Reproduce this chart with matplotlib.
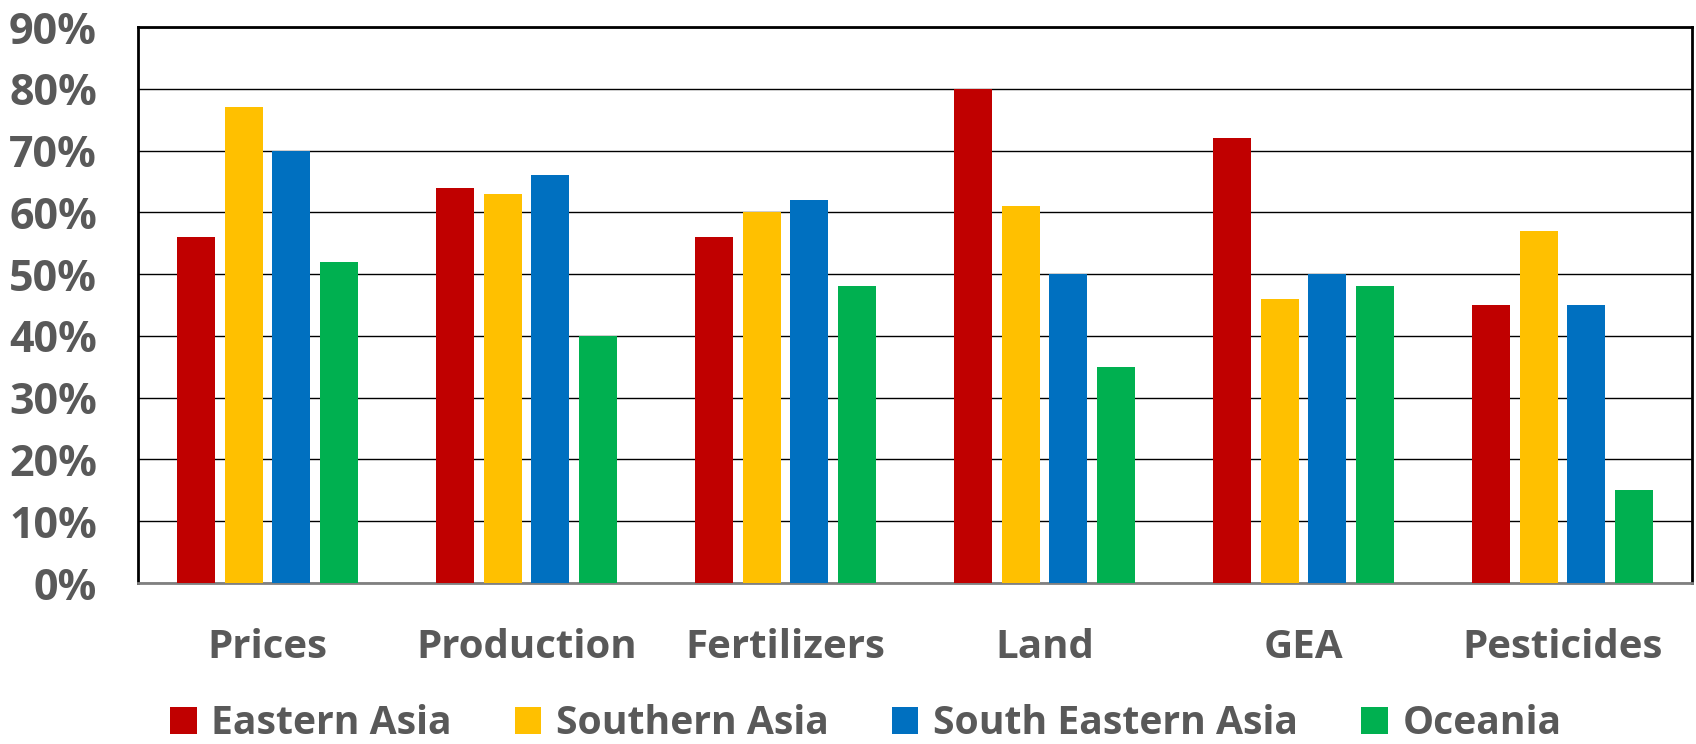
import matplotlib
matplotlib.use("Agg")
import matplotlib.pyplot as plt
import numpy as np
from matplotlib.patches import Patch
from matplotlib.ticker import PercentFormatter

categories = ["Prices", "Production", "Fertilizers", "Land", "GEA", "Pesticides"]
series_names = ["Eastern Asia", "Southern Asia", "South Eastern Asia", "Oceania"]
eastern_asia = [56, 64, 56, 80, 72, 45]
southern_asia = [77, 63, 60, 61, 46, 57]
south_eastern_asia = [70, 66, 62, 50, 50, 45]
oceania = [52, 40, 48, 35, 48, 15]
colors = ["#C00000", "#FFC000", "#0070C0", "#00B050"]
y_ticks = [0, 10, 20, 30, 40, 50, 60, 70, 80, 90]

plt.rcParams['font.family'] = ['Open Sans', 'DejaVu Sans']
text_color = "#595959"

fig = plt.figure(figsize=(16.96, 7.44), dpi=100)
ax = fig.add_axes([138/1696, 1-583/744, (1692-138)/1696, (583-27)/744])

x = np.arange(len(categories))
bar_w = 0.146
pitch = 0.184
all_series = [eastern_asia, southern_asia, south_eastern_asia, oceania]
for i, (vals, c) in enumerate(zip(all_series, colors)):
    offs = (i - 1.5) * pitch
    ax.bar(x + offs, vals, width=bar_w, color=c, zorder=3, linewidth=0)

ax.set_xlim(-0.5, len(categories) - 0.5)
ax.set_ylim(0, 90)
ax.set_yticks(y_ticks)
ax.yaxis.set_major_formatter(PercentFormatter(decimals=0))
ax.set_xticks(x)
ax.set_xticklabels(categories)
ax.grid(axis='y', color='black', linewidth=1.0, zorder=0)
ax.set_axisbelow(True)

ax.tick_params(axis='y', length=0, pad=29.5, labelsize=31, labelcolor=text_color)
ax.tick_params(axis='x', length=0, pad=32.5, labelsize=29, labelcolor=text_color)
for lab in ax.get_xticklabels() + ax.get_yticklabels():
    lab.set_fontweight('bold')

for s in ['left', 'top', 'right']:
    ax.spines[s].set_color('black')
    ax.spines[s].set_linewidth(2)
ax.spines['bottom'].set_color('#808080')
ax.spines['bottom'].set_linewidth(2)

handles = [Patch(facecolor=c, edgecolor='none') for c in colors]
leg = fig.legend(handles, series_names, loc='center', bbox_to_anchor=(0.5105, 1-724/744),
                 ncol=4, frameon=False, handlelength=0.68, handleheight=0.68,
                 handletextpad=0.38, columnspacing=1.6,
                 prop={'size': 28.2, 'weight': 'bold'}, borderpad=0.1)
for t in leg.get_texts():
    t.set_color(text_color)

fig.savefig("out.png", dpi=100)
